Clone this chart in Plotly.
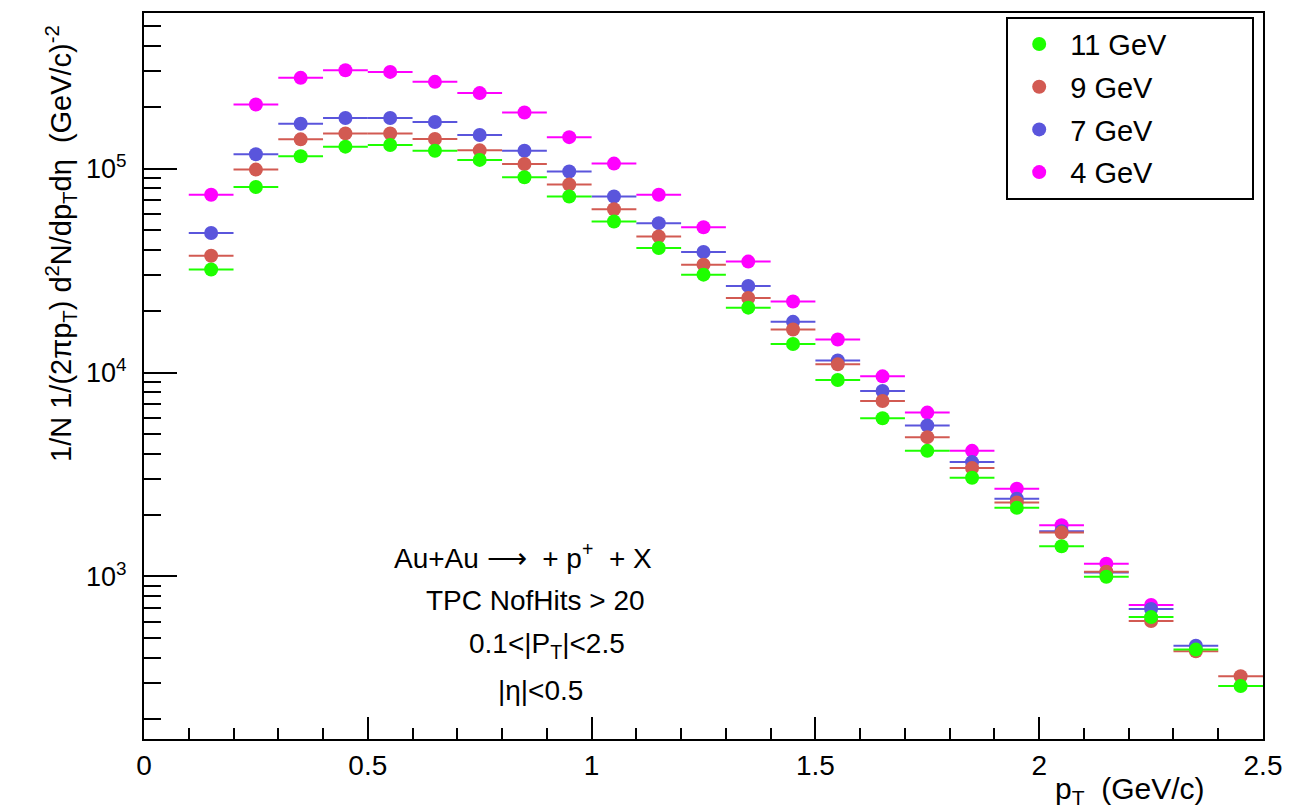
import plotly.graph_objects as go

pt = [0.15, 0.25, 0.35, 0.45, 0.55, 0.65, 0.75, 0.85, 0.95, 1.05, 1.15, 1.25,
      1.35, 1.45, 1.55, 1.65, 1.75, 1.85, 1.95, 2.05, 2.15, 2.25, 2.35, 2.45]
pt_err = [0.05] * len(pt)

y_11gev = [32000, 81200, 114900, 128100, 130600, 122400, 110300, 90700, 73000, 55000,
           40800, 30200, 20800, 13800, 9190, 5970, 4130, 3050, 2170, 1407, 997, 632, 438, 290]
y_9gev = [37400, 98900, 139100, 148800, 148800, 139700, 122900, 105400, 83500, 63200,
          46500, 33800, 23200, 16260, 10970, 7255, 4820, 3400, 2308, 1641, 1054, 604, 430, 324]
y_7gev = [48300, 117500, 166000, 177000, 177000, 169200, 146200, 122400, 96700, 73000,
          54000, 39000, 26570, 17720, 11470, 8120, 5495, 3638, 2407, 1665, 1046, 692, 458, None]
y_4gev = [74400, 206200, 278600, 303800, 298000, 266300, 234600, 188500, 142600, 105800,
          74400, 51600, 35000, 22290, 14530, 9580, 6360, 4130, 2693, 1782, 1154, 724, None, None]

# (legend label, values, colour, legend rank) -- drawn 4 GeV first so 11 GeV is on top
series = [
    ("4 GeV", y_4gev, "#ff00ff", 4),
    ("7 GeV", y_7gev, "#5a55dc", 3),
    ("9 GeV", y_9gev, "#d25a52", 2),
    ("11 GeV", y_11gev, "#1eff00", 1),
]

FONT = "Liberation Sans, Arial, Helvetica, sans-serif"
PAD = "\u00a0" * 10

fig = go.Figure()
for name, ys, col, rank in series:
    fig.add_trace(go.Scatter(
        x=pt, y=ys, name=name + PAD, mode="markers", legendgroup=name, legendrank=rank,
        marker=dict(color=col, size=14, symbol="circle"),
        error_x=dict(type="data", array=pt_err, symmetric=True, color=col, thickness=2, width=0),
    ))

fig.update_layout(
    width=1293, height=811,
    margin=dict(l=144, r=26, t=11, b=72),
    paper_bgcolor="white", plot_bgcolor="white",
    font=dict(family=FONT, size=28, color="black"),
    showlegend=True,
    legend=dict(
        x=0.7705, y=0.995, xanchor="left", yanchor="top",
        bgcolor="white", bordercolor="black", borderwidth=2,
        font=dict(family=FONT, size=29, color="black"),
        traceorder="grouped", tracegroupgap=2, itemwidth=52,
    ),
    xaxis=dict(
        range=[0, 2.5], showgrid=False, zeroline=False,
        showline=True, linecolor="black", linewidth=2, mirror=True,
        ticks="inside", ticklen=22, tickwidth=2, tickcolor="black",
        tickvals=[0, 0.5, 1, 1.5, 2, 2.5], ticktext=["0", "0.5", "1", "1.5", "2", "2.5"],
        tickfont=dict(family=FONT, size=28),
        minor=dict(ticks="inside", ticklen=11, tickwidth=2, tickcolor="black",
                   tickvals=[0.1, 0.2, 0.3, 0.4, 0.6, 0.7, 0.8, 0.9, 1.1, 1.2, 1.3, 1.4,
                             1.6, 1.7, 1.8, 1.9, 2.1, 2.2, 2.3, 2.4]),
    ),
    yaxis=dict(
        type="log", range=[2.203, 5.763], showgrid=False, zeroline=False,
        showline=True, linecolor="black", linewidth=2, mirror=True,
        ticks="inside", ticklen=33, tickwidth=2, tickcolor="black",
        tickvals=[1e3, 1e4, 1e5],
        ticktext=["10<sup>3</sup>", "10<sup>4</sup>", "10<sup>5</sup>"],
        tickfont=dict(family=FONT, size=27), ticklabelstandoff=10,
        minor=dict(ticks="inside", ticklen=17, tickwidth=2, tickcolor="black",
                   tickvals=[200, 300, 400, 500, 600, 700, 800, 900,
                             2000, 3000, 4000, 5000, 6000, 7000, 8000, 9000,
                             20000, 30000, 40000, 50000, 60000, 70000, 80000, 90000,
                             200000, 300000, 400000, 500000]),
    ),
)

annots = [
    dict(text="1/N 1/(2πp<sub>T</sub>) d<sup>2</sup>N/dp<sub>T</sub>dη  (GeV/c)<sup>-2</sup>",
         xref="paper", yref="paper", x=-0.0748, y=0.986, xanchor="center", yanchor="top",
         textangle=-90, showarrow=False, font=dict(family=FONT, size=29)),
    dict(text="p<sub>T</sub>  (GeV/c)", xref="paper", yref="paper", x=0.950, y=-0.0705,
         xanchor="right", yanchor="middle", showarrow=False, font=dict(family=FONT, size=30)),
    dict(text="Au+Au ⟶  + p<sup>+</sup>  + X", xref="x", yref="paper", x=0.554, y=0.2514,
         xanchor="left", yanchor="middle", showarrow=False, font=dict(family=FONT, size=28)),
    dict(text="TPC NofHits > 20", xref="x", yref="paper", x=0.6256, y=0.1909,
         xanchor="left", yanchor="middle", showarrow=False, font=dict(family=FONT, size=28)),
    dict(text="0.1<|P<sub>T</sub>|<2.5", xref="x", yref="paper", x=0.7213, y=0.1291,
         xanchor="left", yanchor="middle", showarrow=False, font=dict(family=FONT, size=28)),
    dict(text="|η|<0.5", xref="x", yref="paper", x=0.7859, y=0.0673,
         xanchor="left", yanchor="middle", showarrow=False, font=dict(family=FONT, size=28)),
]
fig.update_layout(annotations=annots)

fig.write_html("out.html")
